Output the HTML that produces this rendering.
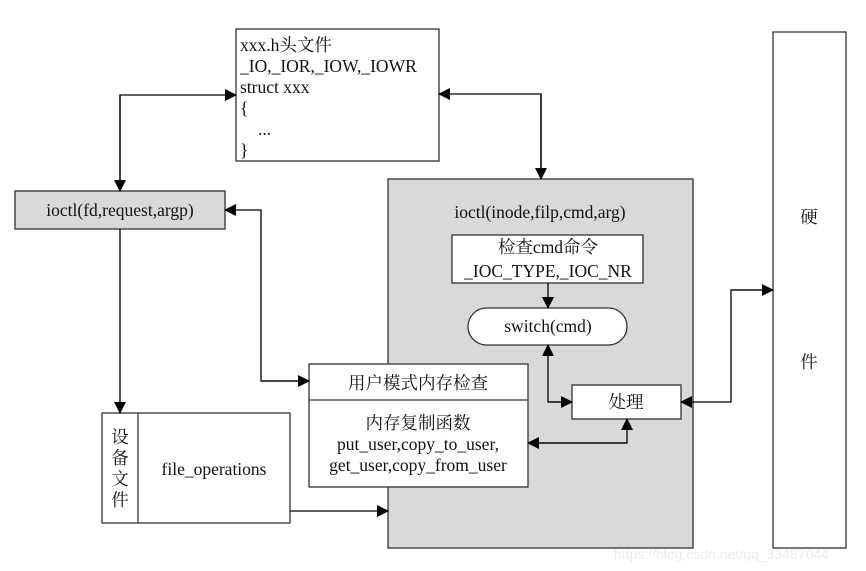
<!DOCTYPE html>
<html><head><meta charset="utf-8"><style>
html,body{margin:0;padding:0;background:#fff;}
svg{display:block;}
text{font-family:"Liberation Serif","Noto Serif CJK SC",serif;fill:#111;}
</style></head><body>
<svg width="866" height="571" viewBox="0 0 866 571" xmlns="http://www.w3.org/2000/svg">
<defs>
<marker id="a" markerWidth="12" markerHeight="12" refX="11" refY="6" orient="auto" markerUnits="userSpaceOnUse">
<path d="M0,0 L12,6 L0,12 z" fill="#000"/></marker>
</defs>
<g stroke="#333" stroke-width="1.3">
<rect x="388" y="179" width="305" height="369" fill="#d9d9d9"/>
<rect x="236" y="29" width="203" height="132" fill="#fff"/>
<rect x="15" y="191" width="210" height="38" fill="#d9d9d9"/>
<rect x="452" y="235" width="191" height="48" fill="#fff"/>
<rect x="468" y="308" width="159" height="37" rx="18.5" fill="#fff"/>
<rect x="572" y="385" width="109" height="34" fill="#fff"/>
<rect x="309" y="364" width="219" height="123" fill="#fff"/>
<line x1="309" y1="400" x2="528" y2="400"/>
<rect x="102" y="413" width="188" height="110" fill="#fff"/>
<line x1="138" y1="413" x2="138" y2="523"/>
<rect x="773" y="32" width="73" height="516" fill="#fff"/>
</g>
<g stroke="#000" stroke-width="1.3" fill="none">
<path d="M120,191 L120,95 L236,95" marker-end="url(#a)"/>
<path d="M120,95 L120,191" marker-end="url(#a)"/>
<path d="M541,179 L541,94 L439,94" marker-end="url(#a)"/>
<path d="M541,94 L541,179" marker-end="url(#a)"/>
<path d="M309,381 L261,381 L261,210 L225,210" marker-end="url(#a)"/>
<path d="M261,381 L309,381" marker-end="url(#a)"/>
<path d="M120,229 L120,413" marker-end="url(#a)"/>
<path d="M290,511 L388,511" marker-end="url(#a)"/>
<path d="M548,283 L548,308" marker-end="url(#a)"/>
<path d="M572,402 L548,402 L548,345" marker-end="url(#a)"/>
<path d="M548,402 L572,402" marker-end="url(#a)"/>
<path d="M528,443 L627,443 L627,419" marker-end="url(#a)"/>
<path d="M627,443 L528,443" marker-end="url(#a)"/>
<path d="M773,290 L731,290 L731,402 L681,402" marker-end="url(#a)"/>
<path d="M731,290 L773,290" marker-end="url(#a)"/>
</g>
<g font-size="17.5">
<text x="240" y="51">xxx.h头文件</text>
<text x="240" y="72">_IO,_IOR,_IOW,_IOWR</text>
<text x="240" y="93">struct xxx</text>
<text x="240" y="114">{</text>
<text x="258" y="135">...</text>
<text x="240" y="156">}</text>
<text x="120" y="216" text-anchor="middle">ioctl(fd,request,argp)</text>
<text x="540" y="218" text-anchor="middle">ioctl(inode,filp,cmd,arg)</text>
<text x="548" y="253" text-anchor="middle">检查cmd命令</text>
<text x="548" y="277" text-anchor="middle">_IOC_TYPE,_IOC_NR</text>
<text x="548" y="332" text-anchor="middle">switch(cmd)</text>
<text x="626" y="408" text-anchor="middle">处理</text>
<text x="418" y="389" text-anchor="middle">用户模式内存检查</text>
<text x="418" y="429" text-anchor="middle">内存复制函数</text>
<text x="418" y="450" text-anchor="middle">put_user,copy_to_user,</text>
<text x="418" y="471" text-anchor="middle">get_user,copy_from_user</text>
<text x="214" y="475" text-anchor="middle">file_operations</text>
<text x="120" y="443" text-anchor="middle">设</text>
<text x="120" y="464" text-anchor="middle">备</text>
<text x="120" y="485" text-anchor="middle">文</text>
<text x="120" y="506" text-anchor="middle">件</text>
<text x="809" y="223" text-anchor="middle">硬</text>
<text x="809" y="368" text-anchor="middle">件</text>
</g>
<text x="614" y="559" font-size="14" style="font-family:'Liberation Sans',sans-serif;fill:#ececec">https://blog.csdn.net/qq_33487044</text>
</svg>
</body></html>
